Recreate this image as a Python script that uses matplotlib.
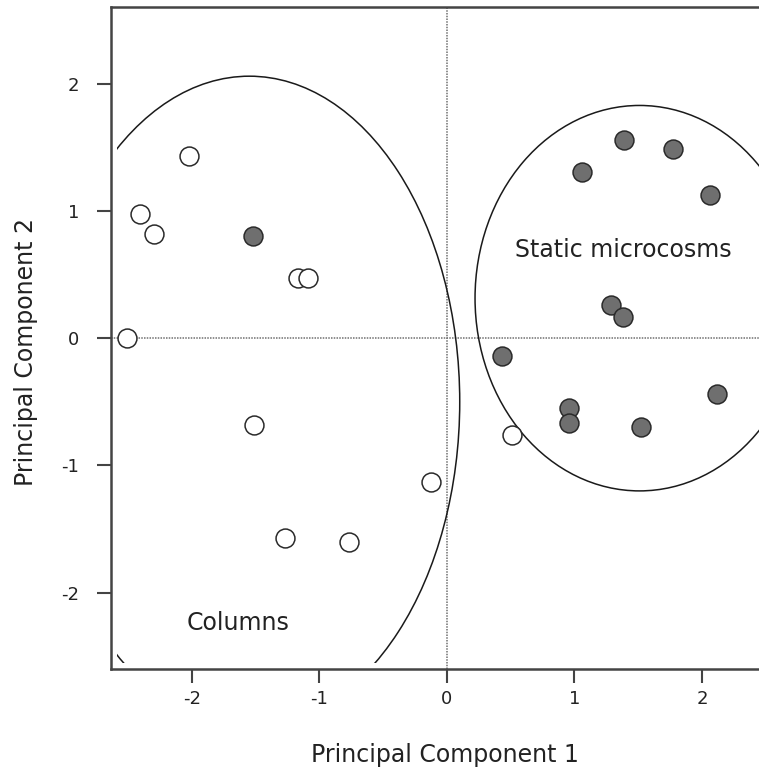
"""PCA scores: columns vs static microcosms"""

import matplotlib.pyplot as plt
from matplotlib.patches import Ellipse, Rectangle

# PC scores for the column samples (open symbols)
columns_pc1 = [-2.02, -2.41, -2.30, -2.51, -1.17, -1.09, -1.51, -1.27, -0.77, -0.125, 0.51]
columns_pc2 = [1.43, 0.98, 0.82, 0.0, 0.47, 0.47, -0.68, -1.57, -1.60, -1.13, -0.76]

# PC scores for the static microcosm samples (filled symbols)
static_pc1 = [-1.52, 1.056, 1.39, 1.775, 2.06, 1.29, 1.38, 0.43, 0.96, 0.96, 1.52, 2.115]
static_pc2 = [0.80, 1.31, 1.56, 1.49, 1.13, 0.265, 0.17, -0.14, -0.55, -0.67, -0.70, -0.435]

# group ellipses: centre x, centre y, width, height
columns_ellipse = (-1.55, -0.50, 3.30, 5.12)
static_ellipse = (1.51, 0.315, 2.58, 3.03)

xticks = [-2, -1, 0, 1, 2]
yticks = [-2, -1, 0, 1, 2]


def main():
    """Main function"""
    plt.rcParams['axes.unicode_minus'] = False
    fig = plt.figure(figsize=(7.59, 7.72), dpi=100)
    ax = fig.add_axes([111 / 759, 103 / 772, 1 - 111 / 759, 661.5 / 772])

    ax.set_xlim(-2.635, 2.447)
    ax.set_ylim(-2.60, 2.60)

    # dotted zero lines
    ax.axhline(0, color='#707070', lw=1.1, ls=(0, (1, 0.8)), zorder=1)
    ax.axvline(0, color='#707070', lw=1.1, ls=(0, (1, 0.8)), zorder=1)

    # ellipses are clipped a little inside the frame
    clip = Rectangle((-2.585, -2.555), 5.2, 5.2, transform=ax.transData,
                     visible=False)
    ax.add_patch(clip)
    for cx, cy, w, h in (columns_ellipse, static_ellipse):
        e = Ellipse((cx, cy), w, h, fill=False, ec='#1a1a1a', lw=1.1,
                    zorder=2)
        ax.add_patch(e)
        e.set_clip_path(clip)

    ax.scatter(columns_pc1, columns_pc2, s=185, facecolor='white',
               edgecolor='#2a2a2a', linewidth=1.1, zorder=3)
    ax.scatter(static_pc1, static_pc2, s=185, facecolor='#6f6f6f',
               edgecolor='#2a2a2a', linewidth=1.1, zorder=3)

    ax.text(0.533, 0.69, 'Static microcosms', fontsize=17, va='center',
            ha='left', color='#222222')
    ax.text(-2.04, -2.24, 'Columns', fontsize=17, va='center', ha='left',
            color='#222222')

    ax.set_xticks(xticks)
    ax.set_yticks(yticks)
    ax.tick_params(axis='both', direction='out', length=10, width=1.5,
                   color='#444444', labelsize=13, labelcolor='#222222')
    ax.tick_params(axis='x', pad=5)
    ax.tick_params(axis='y', pad=13)

    for side in ('left', 'bottom', 'top'):
        ax.spines[side].set_linewidth(1.8)
        ax.spines[side].set_color('#444444')
    ax.spines['right'].set_visible(False)

    ax.set_xlabel('Principal Component 1', fontsize=17, color='#222222')
    ax.set_ylabel('Principal Component 2', fontsize=17, color='#222222')
    ax.xaxis.set_label_coords(0.515, -0.112)
    ax.yaxis.set_label_coords(-0.113, 0.479)

    fig.savefig('out.png', dpi=100)


if __name__ == "__main__":
    main()
